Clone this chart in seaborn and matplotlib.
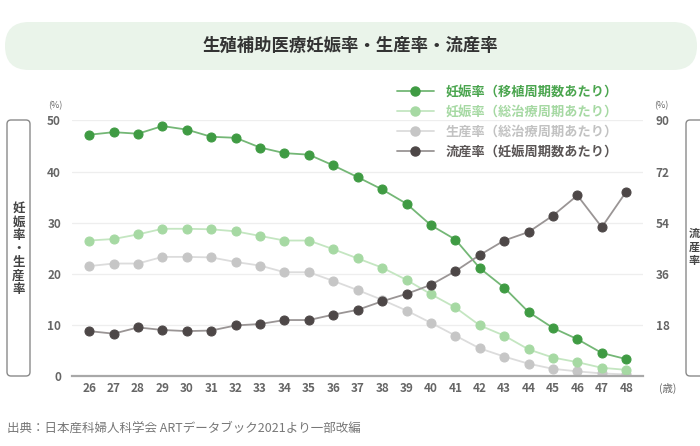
import numpy as np
import pandas as pd
import matplotlib
matplotlib.use("Agg")
import matplotlib.pyplot as plt
import matplotlib.patches as mpatches
import matplotlib.transforms as mtransforms
from matplotlib.lines import Line2D
import seaborn as sns

# data
ages = list(range(26, 49))
preg_per_transfer = [47.2, 47.7, 47.4, 48.9, 48.2, 46.8, 46.6, 44.7, 43.6, 43.3, 41.2, 38.9,
                     36.5, 33.7, 29.5, 26.7, 21.1, 17.3, 12.5, 9.4, 7.2, 4.5, 3.3]
preg_per_cycle = [26.5, 26.8, 27.7, 28.8, 28.8, 28.7, 28.3, 27.4, 26.5, 26.5, 24.8, 23.0,
                  21.2, 18.8, 16.0, 13.4, 9.9, 7.9, 5.2, 3.6, 2.7, 1.6, 1.2]
birth_per_cycle = [21.5, 22.0, 22.0, 23.3, 23.3, 23.2, 22.3, 21.6, 20.3, 20.3, 18.6, 16.8,
                   14.9, 12.8, 10.4, 7.9, 5.4, 3.8, 2.4, 1.4, 0.9, 0.5, 0.3]
miscarriage = [15.8, 14.9, 17.1, 16.2, 15.8, 16.0, 17.8, 18.3, 19.7, 19.7, 21.6, 23.3,
               26.3, 28.9, 32.1, 36.9, 42.6, 47.7, 50.7, 56.5, 63.6, 52.4, 64.9]

series_names = ["妊娠率（移植周期数あたり）", "妊娠率（総治療周期あたり）",
                "生産率（総治療周期あたり）", "流産率（妊娠周期数あたり）"]
marker_colors = ["#3f9b43", "#a6d9a3", "#c6c6c6", "#4d4747"]
line_colors = ["#74b776", "#c4e6c1", "#dcdcdc", "#9a9595"]
text_colors = ["#4aa54e", "#a6d9a3", "#c2c2c2", "#5a5555"]

left_ticks = [0, 10, 20, 30, 40, 50]
right_ticks = [0, 18, 36, 54, 72, 90]

sns.set_theme(style="white")
plt.rcParams['font.family'] = ['Noto Sans CJK JP', 'DejaVu Sans']

fig = plt.figure(figsize=(7, 4.46), dpi=100)
ax = fig.add_axes([0.103, 0.157, 0.816, 0.573])
ax2 = ax.twinx()

# left axis series
left_data = [preg_per_transfer, preg_per_cycle, birth_per_cycle]
for i, vals in enumerate(left_data):
    df = pd.DataFrame({"age": ages, "value": vals})
    sns.lineplot(data=df, x="age", y="value", ax=ax, color=line_colors[i],
                 linewidth=1.3, marker="o", markersize=6.5,
                 markerfacecolor=marker_colors[i], markeredgecolor=marker_colors[i],
                 zorder=3 - i)

# right axis series
df_m = pd.DataFrame({"age": ages, "value": miscarriage})
sns.lineplot(data=df_m, x="age", y="value", ax=ax2, color=line_colors[3],
             linewidth=1.3, marker="o", markersize=6.5,
             markerfacecolor=marker_colors[3], markeredgecolor=marker_colors[3])

ax.set_xlim(25.3, 48.7)
ax.set_ylim(0, 50)
ax2.set_ylim(0, 90)
ax.set_xticks(ages)
ax.set_yticks(left_ticks)
ax2.set_yticks(right_ticks)
ax2.set_yticklabels([""] + [str(t) for t in right_ticks[1:]])

for a in (ax, ax2):
    a.set_xlabel("")
    a.set_ylabel("")
    for s in a.spines.values():
        s.set_visible(False)
    a.tick_params(length=0, labelsize=8.5, labelcolor="#666666")
    for lab in a.get_yticklabels() + a.get_xticklabels():
        lab.set_fontweight("bold")
ax.tick_params(axis="y", pad=8)
ax2.tick_params(axis="y", pad=9)
ax.tick_params(axis="x", pad=4)

ax.grid(axis="y", color="#eeeeee", linewidth=0.9)
ax.grid(axis="x", visible=False)
ax2.grid(False)
ax.spines["bottom"].set_visible(True)
ax.spines["bottom"].set_color("#a8a8a8")
ax.spines["bottom"].set_linewidth(1.6)

# unit labels
fig.text(55 / 700, 1 - 106 / 446, "(%)", fontsize=6.5, color="#666666", ha="center", va="center")
fig.text(661 / 700, 1 - 106 / 446, "(%)", fontsize=6.5, color="#666666", ha="center", va="center")
fig.text(668 / 700, 1 - 388 / 446, "(歳)", fontsize=7.5, color="#666666", ha="center", va="center")

# legend
handles = [Line2D([0], [0], color=line_colors[i], linewidth=1.3, marker="o", markersize=6.5,
                  markerfacecolor=marker_colors[i], markeredgecolor=marker_colors[i])
           for i in range(4)]
leg = fig.legend(handles, series_names, loc="upper left",
                 bbox_to_anchor=(385 / 700, 1 - 73 / 446), frameon=False,
                 fontsize=9.5, handlelength=2.8, handletextpad=0.9, labelspacing=0.45)
for t, c in zip(leg.get_texts(), text_colors):
    t.set_color(c)
    t.set_fontweight("bold")

# title pill
ident = mtransforms.IdentityTransform()
pill = mpatches.FancyBboxPatch((5, 446 - 70), 692, 48,
                               boxstyle="round,pad=0,rounding_size=24",
                               facecolor="#eaf4ea", edgecolor="none", transform=ident)
fig.add_artist(pill)
fig.text(0.5, 1 - 46 / 446, "生殖補助医療妊娠率・生産率・流産率", fontsize=12.5,
         fontweight="bold", color="#333333", ha="center", va="center")

# side label boxes
lbox = mpatches.FancyBboxPatch((7, 446 - 376), 23, 256,
                               boxstyle="round,pad=0,rounding_size=4",
                               facecolor="none", edgecolor="#8a8a8a", linewidth=1,
                               transform=ident)
fig.add_artist(lbox)
fig.text(18.5 / 700, 1 - 249 / 446, "\n".join("妊娠率・生産率"), fontsize=9,
         color="#444444", ha="center", va="center", linespacing=1.05, fontweight="bold")

rbox = mpatches.FancyBboxPatch((686, 446 - 376), 40, 256,
                               boxstyle="round,pad=0,rounding_size=4",
                               facecolor="none", edgecolor="#8a8a8a", linewidth=1,
                               transform=ident)
fig.add_artist(rbox)
fig.text(689 / 700, 1 - 247 / 446, "\n".join("流産率"), fontsize=8,
         color="#444444", ha="left", va="center", linespacing=1.05, fontweight="bold")

# source
fig.text(7 / 700, 1 - 428 / 446, "出典：日本産科婦人科学会 ARTデータブック2021より一部改編",
         fontsize=9, color="#777777", ha="left", va="center")

fig.savefig("out.png", dpi=100)
